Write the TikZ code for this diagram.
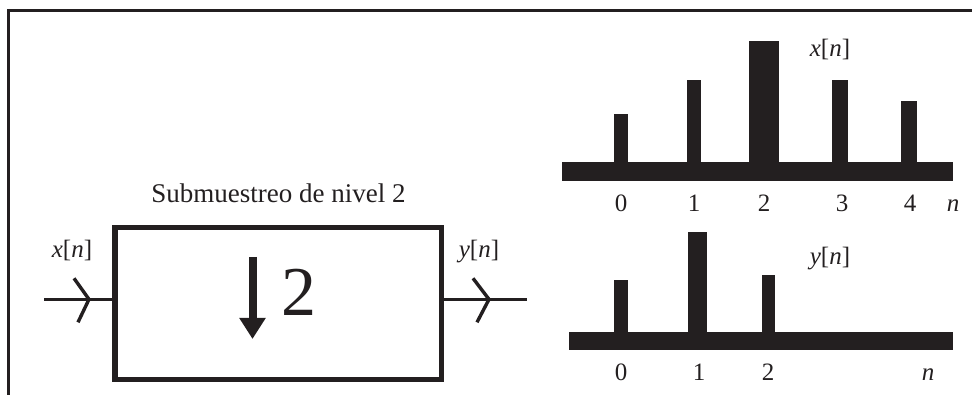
\documentclass[tikz,border=0pt]{standalone}
\usepackage{fontspec}
\setmainfont{Liberation Serif}
\usetikzlibrary{arrows.meta}
\definecolor{ink}{HTML}{231F20}
\newcommand\signame[2]{\textit{#1}[\textit{#2}]}
\tikzset{
  lbl/.style={inner sep=0pt, anchor=base, text=ink, font=\fontsize{25}{25}\selectfont},
  blk/.style={draw=ink, line width=5.5pt, inner sep=0pt},
  wire/.style={draw=ink, line width=3.4pt},
  stem/.style={fill=ink},
}
\begin{document}
\begin{tikzpicture}[x=1pt,y=-1pt]
\useasboundingbox (0,0) rectangle (972,395);
% frame
\draw[ink, line width=3pt] (7,10.5) -- (972,10.5);
\draw[ink, line width=2.5pt] (8.5,9) -- (8.5,395);

% block
\node[blk, minimum width=326.5pt, minimum height=152pt] (box) at (278.25,303.5) {};
\node[lbl, font=\fontsize{27}{27}\selectfont] (title) at (278.5,203) {Submuestreo de nivel 2};
\draw[ink, line width=8pt, -{Triangle[width=25pt,length=21pt]}] (252.5,257) -- (252.5,339);
\node[lbl, anchor=base west, font=\fontsize{70}{70}\selectfont] (two) at (281,316) {2};

% input
\coordinate (in) at (44,299.3);
\coordinate (ina) at (89,299.3);
\draw[wire] (in) -- (box.west |- in);
\draw[wire] ([shift={(-15,-21)}]ina) -- (ina) -- ([shift={(-11,23)}]ina);
\node[lbl] (xin) at (72,258) {\signame{x}{n}};

% output
\coordinate (out) at (527,299.3);
\coordinate (outa) at (489,299.3);
\draw[wire] (box.east |- out) -- (out);
\draw[wire] ([shift={(-16,-21)}]outa) -- (outa) -- ([shift={(-12,23)}]outa);
\node[lbl] (yout) at (479,258) {\signame{y}{n}};

% top plot x[n]
\fill[stem] (562,162) rectangle (953,181);
\fill[stem] (614,114) rectangle (628,170);
\fill[stem] (687,80) rectangle (701,170);
\fill[stem] (749,41) rectangle (779,170);
\fill[stem] (832,80) rectangle (848,170);
\fill[stem] (901,101) rectangle (917,170);
\node[lbl] (x0) at (621,212) {0};
\node[lbl] (x1) at (694,212) {1};
\node[lbl] (x2) at (764,212) {2};
\node[lbl] (x3) at (842,212) {3};
\node[lbl] (x4) at (910,212) {4};
\node[lbl] (xn) at (953,212) {\textit{n}};
\node[lbl] (xlab) at (830,57) {\signame{x}{n}};

% bottom plot y[n]
\fill[stem] (569,332) rectangle (953,350);
\fill[stem] (614,280) rectangle (628,340);
\fill[stem] (688,232) rectangle (707,340);
\fill[stem] (762,275) rectangle (775,340);
\node[lbl] (y0) at (621,380) {0};
\node[lbl] (y1) at (699,380) {1};
\node[lbl] (y2) at (768,380) {2};
\node[lbl] (yn) at (928,380) {\textit{n}};
\node[lbl] (ylab) at (830,265) {\signame{y}{n}};
\end{tikzpicture}
\end{document}
